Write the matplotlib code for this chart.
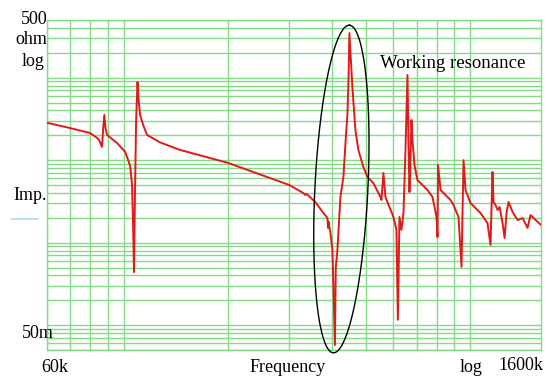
import numpy as np
import matplotlib
matplotlib.use('Agg')
import matplotlib.pyplot as plt
from matplotlib.ticker import LogLocator, NullFormatter

# impedance curve (frequency in kHz, impedance in ohm)
freq_khz = [60, 70, 79.9, 83.7, 84.8, 86.5, 87.1, 87.8, 88.6, 89.5, 95.6, 100.9,
            102.9, 104.3, 105.6, 106.4, 107.0, 107.6, 108.5, 109.5, 110.3, 111.4,
            113.7, 116.7, 127.3, 145.4, 200.2, 300.3, 329.7, 334, 337, 357, 376.7,
            386.9, 388.5, 389.5, 394.7, 400, 402.6, 406.7, 409, 413.5, 421.8,
            430.3, 437.6, 441.8, 445, 447.7, 456.7, 466, 475.3, 491.4, 504.8,
            525.3, 550.3, 554, 561.4, 568.9, 600, 612.1, 618.1, 624.5, 632.9,
            641.4, 650, 658.7, 663, 667.5, 672, 676.3, 680.9, 690, 703.7, 752.5,
            777.9, 798.9, 804.3, 807, 820.5, 876.7, 894.5, 924.8, 943.3, 956,
            968.7, 1001, 1070, 1121, 1144, 1159, 1167, 1183, 1199, 1215, 1239,
            1256, 1273, 1290, 1325, 1370, 1416, 1463, 1493, 1544, 1600]
imp_ohm = [28.4, 24.5, 21.3, 18.6, 17.6, 14.5, 23.2, 35.3, 24.0, 20.2, 16.1, 12.6,
           10.0, 8.49, 5.0, 1.43, 0.44, 3.29, 30.7, 88.6, 53.6, 35.3,
           26.7, 20.2, 16.4, 13.3, 9.24, 5.0, 4.0, 3.78, 3.9, 3.11, 2.29,
           1.99, 1.51, 1.8, 1.31, 0.81, 0.3, 0.0575, 0.5, 0.81, 3.58,
           6.25, 20.0, 35.0, 90.0, 347, 77.0, 23.2, 13.3, 8.26, 6.25,
           5.28, 3.58, 3.29, 6.98, 3.58, 2.05, 1.43, 0.116, 2.05, 1.43,
           2.29, 13.3, 107.7, 17.6, 4.11, 10.0, 30.7, 17.6, 8.73, 5.75, 4.35,
           3.58, 2.05, 1.17, 8.73, 4.35, 3.29, 2.86, 2.05, 0.51, 10.0,
           4.35, 3.03, 2.29, 1.73, 0.94, 7.19, 3.11, 2.86, 2.49, 2.71, 1.73,
           1.14, 2.35, 3.11, 2.35, 1.88, 1.99, 1.51, 2.16, 1.88, 1.64]

x_range = (60, 1600)
y_range = (0.05, 500)

grid_green = '#86d986'
curve_red = '#e01a1a'

plt.rcParams['font.family'] = ['Liberation Serif', 'DejaVu Serif']

fig = plt.figure(figsize=(5.47, 3.78), dpi=100)
ax = fig.add_axes([47 / 547, 28 / 378, 494 / 547, 330 / 378])
ax.set_xscale('log')
ax.set_yscale('log')
ax.set_xlim(*x_range)
ax.set_ylim(*y_range)

for axis in (ax.xaxis, ax.yaxis):
    axis.set_major_locator(LogLocator(base=10, numticks=20))
    axis.set_minor_locator(LogLocator(base=10, subs=np.arange(2, 10), numticks=100))
    axis.set_minor_formatter(NullFormatter())
ax.grid(which='both', color=grid_green, linewidth=1.0)
ax.tick_params(which='both', length=0, labelbottom=False, labelleft=False)
for s in ax.spines.values():
    s.set_color(grid_green)
    s.set_linewidth(1.0)

ax.plot(freq_khz, imp_ohm, color=curve_red, linewidth=1.4, zorder=3)

# tilted ellipse marking the working resonance, built in screen pixels
fig.canvas.draw()
cx, cy = ax.transData.transform((424.5, 4.47))
a, b, tilt = 164, 26.5, np.deg2rad(2.8)
t = np.linspace(0, 2 * np.pi, 300)
ux, uy = np.sin(tilt), np.cos(tilt)
vx, vy = np.cos(tilt), -np.sin(tilt)
px = cx + a * np.cos(t) * ux + b * np.sin(t) * vx
py = cy + a * np.cos(t) * uy + b * np.sin(t) * vy
ex, ey = ax.transData.inverted().transform(np.column_stack([px, py])).T
ax.plot(ex, ey, color='black', linewidth=1.0, zorder=4, clip_on=False)


def fpos(x, y):
    return x / 547, 1 - y / 378


fs = 13
fig.text(*fpos(48, 19), '500', fontsize=fs, ha='right', va='center')
fig.text(*fpos(47, 40), 'ohm', fontsize=fs, ha='right', va='center')
fig.text(*fpos(45, 62), 'log', fontsize=fs, ha='right', va='center')
fig.text(*fpos(47, 195), 'Imp.', fontsize=fs, ha='right', va='center')
fig.add_artist(plt.Line2D([12 / 547, 38 / 547], [1 - 219 / 378] * 2,
                          color='#a8dcef', linewidth=1.2))
fig.text(*fpos(22, 333), '50m', fontsize=fs, ha='left', va='center')
fig.text(*fpos(41, 368), '60k', fontsize=fs, ha='left', va='center')
fig.text(*fpos(288, 367), 'Frequency', fontsize=fs, ha='center', va='center')
fig.text(*fpos(471, 368), 'log', fontsize=fs, ha='center', va='center')
fig.text(*fpos(543, 366), '1600k', fontsize=fs, ha='right', va='center')
fig.text(*fpos(380, 64), 'Working resonance', fontsize=13.5, ha='left', va='center')

fig.savefig('out.png', dpi=100, facecolor='white')
